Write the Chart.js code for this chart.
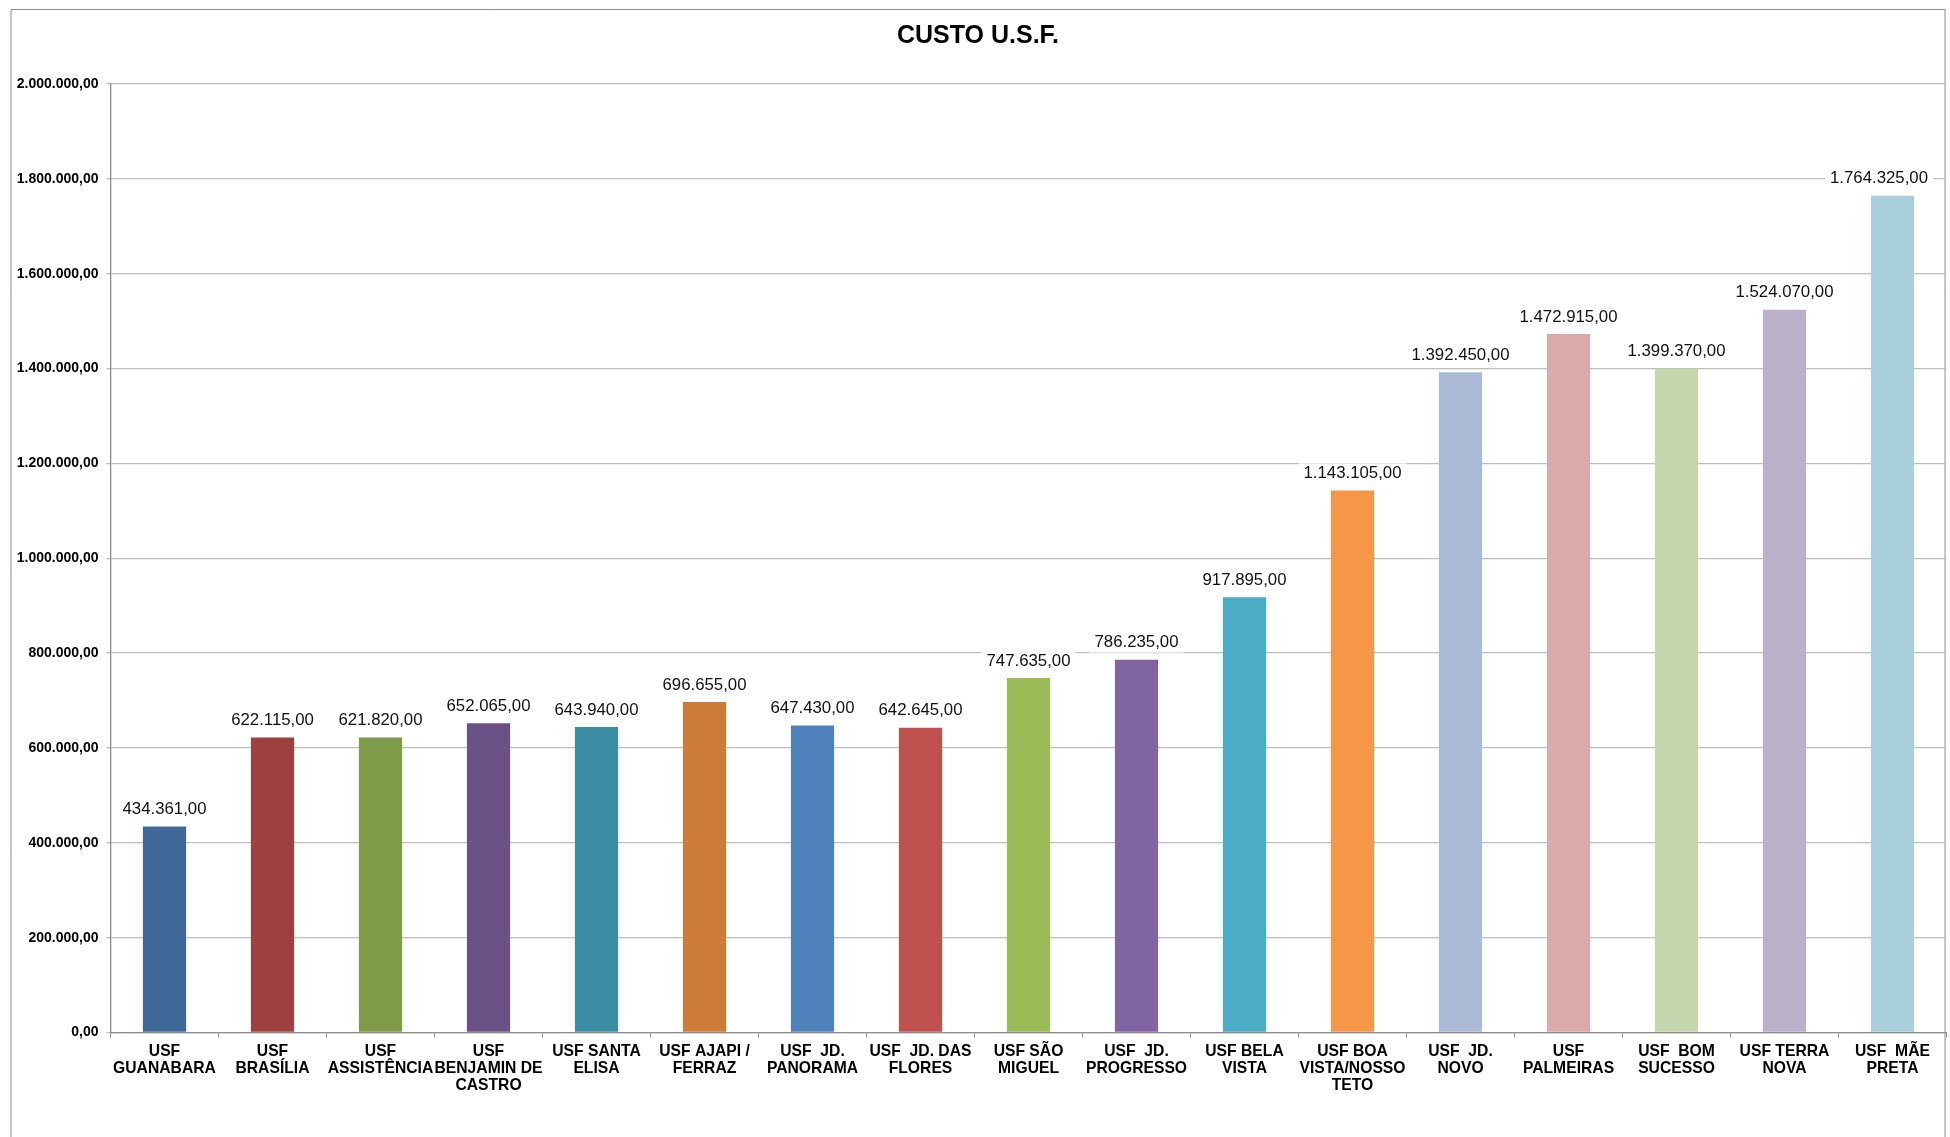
<!DOCTYPE html>
<html>
<head>
<meta charset="utf-8">
<title>CUSTO U.S.F.</title>
<script src="https://cdn.jsdelivr.net/npm/chart.js@4"></script>
<style>
  html, body { margin: 0; padding: 0; background: #fff; }
  #wrap { width: 1950px; height: 1137px; position: relative; }
</style>
</head>
<body>
<div id="wrap"><canvas id="custoChart"></canvas></div>
<script>
// unidades (rótulos já quebrados como no original)
const unidades = [
  ['USF', 'GUANABARA'],
  ['USF', 'BRASÍLIA'],
  ['USF', 'ASSISTÊNCIA'],
  ['USF', 'BENJAMIN DE', 'CASTRO'],
  ['USF SANTA', 'ELISA'],
  ['USF AJAPI /', 'FERRAZ'],
  ['USF  JD.', 'PANORAMA'],
  ['USF  JD. DAS', 'FLORES'],
  ['USF SÃO', 'MIGUEL'],
  ['USF  JD.', 'PROGRESSO'],
  ['USF BELA', 'VISTA'],
  ['USF BOA', 'VISTA/NOSSO', 'TETO'],
  ['USF  JD.', 'NOVO'],
  ['USF', 'PALMEIRAS'],
  ['USF  BOM', 'SUCESSO'],
  ['USF TERRA', 'NOVA'],
  ['USF  MÃE', 'PRETA']
];

const custos = [
  434361, 622115, 621820, 652065, 643940, 696655, 647430, 642645,
  747635, 786235, 917895, 1143105, 1392450, 1472915, 1399370, 1524070, 1764325
];

const cores = [
  '#3F6899', '#9E413E', '#7F9A48', '#695185', '#3C8DA3', '#CC7B38',
  '#4F81BD', '#C0504D', '#9BBB59', '#8064A2', '#4BACC6', '#F79646',
  '#AABAD7', '#D9AAA9', '#C6D6AC', '#BAB0C9', '#A9CEDC'
];

const yTicks = [0, 200000, 400000, 600000, 800000, 1000000, 1200000, 1400000, 1600000, 1800000, 2000000];

const titulo = 'CUSTO U.S.F.';

const FONT = 'Liberation Sans, Arial, Helvetica, sans-serif';

// formato brasileiro: 1.234.567,00
function formatBR(v) {
  const parts = Number(v).toFixed(2).split('.');
  parts[0] = parts[0].replace(/\B(?=(\d{3})+(?!\d))/g, '.');
  return parts.join(',');
}

// moldura cinza + título centrado na moldura (sem borda inferior, como no original)
const frame = {
  id: 'frame',
  beforeDraw(chart) {
    const ctx = chart.ctx;
    ctx.save();
    ctx.fillStyle = '#fff';
    ctx.fillRect(0, 0, chart.width, chart.height);
    ctx.strokeStyle = '#8C8C8C';
    ctx.lineWidth = 1;
    ctx.beginPath();
    ctx.moveTo(11, chart.height);
    ctx.lineTo(11, 9.5);
    ctx.lineTo(1945, 9.5);
    ctx.lineTo(1945, chart.height);
    ctx.stroke();

    ctx.fillStyle = '#000';
    ctx.font = 'bold 25px ' + FONT;
    ctx.textAlign = 'center';
    ctx.textBaseline = 'middle';
    ctx.fillText(titulo, 978, 36);
    ctx.restore();
  }
};

// rótulos de valor acima de cada barra (mantidos dentro da moldura)
const valueLabels = {
  id: 'valueLabels',
  afterDatasetsDraw(chart) {
    const ctx = chart.ctx;
    const meta = chart.getDatasetMeta(0);
    const maxRight = 1933;
    ctx.save();
    ctx.font = '16.8px ' + FONT;
    ctx.textAlign = 'center';
    ctx.textBaseline = 'middle';
    meta.data.forEach((bar, i) => {
      const txt = formatBR(custos[i]);
      const w = ctx.measureText(txt).width;
      let cx = bar.x;
      if (cx + w / 2 + 5 > maxRight) cx = maxRight - w / 2 - 5;
      const cy = bar.y - 17;
      ctx.fillStyle = '#fff';
      ctx.fillRect(cx - w / 2 - 5, cy - 10, w + 10, 20);
      ctx.fillStyle = '#111';
      ctx.fillText(txt, cx, cy);
    });
    ctx.restore();
  }
};

new Chart(document.getElementById('custoChart'), {
  type: 'bar',
  data: {
    labels: unidades,
    datasets: [{
      label: 'Custo',
      data: custos,
      backgroundColor: cores,
      borderWidth: 0,
      barPercentage: 0.4,
      categoryPercentage: 1.0
    }]
  },
  options: {
    responsive: true,
    maintainAspectRatio: false,
    animation: false,
    devicePixelRatio: 1,
    layout: { padding: { left: 0, right: 3.5, top: 84, bottom: 0 } },
    plugins: {
      legend: { display: false },
      tooltip: { enabled: false },
      title: { display: false }
    },
    scales: {
      x: {
        grid: {
          offset: true,
          drawOnChartArea: false,
          drawTicks: true,
          tickLength: 5,
          color: '#8C8C8C'
        },
        border: { color: '#8C8C8C', width: 1.3 },
        ticks: {
          autoSkip: false,
          maxRotation: 0,
          minRotation: 0,
          padding: 6,
          color: '#000',
          font: { family: FONT, size: 15.7, weight: 'bold', lineHeight: 1.07 }
        },
        afterFit(scale) { scale.height = 104.5; }
      },
      y: {
        min: 0,
        max: 2000000,
        afterBuildTicks(scale) {
          scale.ticks = yTicks.map(v => ({ value: v }));
        },
        grid: {
          color: '#BEBEBE',
          lineWidth: 1.3,
          drawTicks: true,
          tickLength: 4
        },
        border: { color: '#8C8C8C', width: 1.3 },
        ticks: {
          padding: 8,
          color: '#000',
          font: { family: FONT, size: 14, weight: 'bold' },
          callback: v => formatBR(v)
        },
        afterFit(scale) { scale.width = 110.5; }
      }
    }
  },
  plugins: [frame, valueLabels]
});
</script>
</body>
</html>
